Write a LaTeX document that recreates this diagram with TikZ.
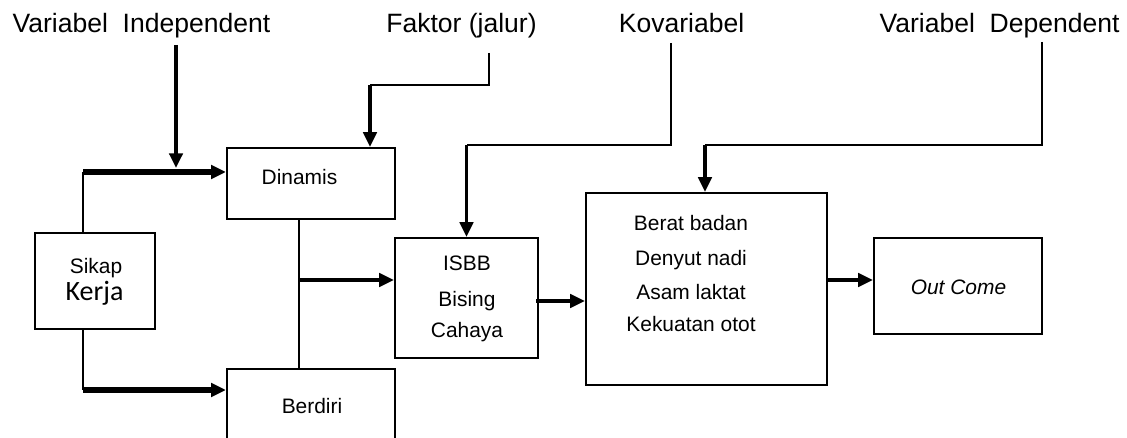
\documentclass[tikz,border=0pt]{standalone}
\usepackage{fontspec}
\setmainfont{Liberation Sans}
\newfontfamily\kerjafont{Carlito}
\usetikzlibrary{arrows.meta}

\begin{document}
\begin{tikzpicture}[x=0.75pt,y=0.75pt,yscale=-1,xscale=1,
  kotak/.style={draw, line width=1.7pt, inner sep=0pt},
  teks/.style={anchor=base, inner sep=0.75pt, font=\fontsize{15.7}{18}\selectfont},
  judul/.style={anchor=base, inner sep=0.75pt, font=\fontsize{19.9}{24}\selectfont},
  garis/.style={line width=1.7pt},
  panah/.style={line width=2.6pt, -{Triangle[length=11pt,width=10pt]}},
  tebal/.style={line width=4.5pt, -{Triangle[length=11pt,width=10pt]}}
]
\useasboundingbox (0,0) rectangle (1127,438);
\clip (0,0) rectangle (1127,438);

%Shape: Rectangle [Sikap Kerja]
\node [kotak, minimum width=90pt, minimum height=72pt] (sikap) at (95,281) {};
%Shape: Rectangle [Dinamis]
\node [kotak, minimum width=126pt, minimum height=53.25pt] (dinamis) at (311,183.5) {};
%Shape: Rectangle [Berdiri]
\node [kotak, minimum width=126pt, minimum height=57pt] (berdiri) at (311,407) {};
%Shape: Rectangle [ISBB]
\node [kotak, minimum width=107.25pt, minimum height=90pt] (isbb) at (466.5,298) {};
%Shape: Rectangle [hasil]
\node [kotak, minimum width=180.75pt, minimum height=144pt] (hasil) at (706.5,289) {};
%Shape: Rectangle [Out Come]
\node [kotak, minimum width=126pt, minimum height=72pt] (outcome) at (958,286) {};

% Text Node
\node [judul] (vi) at (141.5,33) {Variabel~~Independent};
% Text Node
\node [judul] (faktor) at (461.5,33) {Faktor (jalur)};
% Text Node
\node [judul] (kovar) at (681.5,33) {Kovariabel};
% Text Node
\node [judul] (vd) at (999.5,33) {Variabel~~Dependent};
% Text Node
\node [teks] (sikap-a) at (96,273) {Sikap};
% Text Node
\node [teks, font=\kerjafont\fontsize{21}{24}\selectfont] (sikap-b) at (94.5,300) {Kerja};
% Text Node
\node [teks] (dinamis-t) at (299.5,185) {Dinamis};
% Text Node
\node [teks] (berdiri-t) at (312,413) {Berdiri};
% Text Node
\node [teks] (isbb-a) at (467,271) {ISBB};
% Text Node
\node [teks] (isbb-b) at (467,306) {Bising};
% Text Node
\node [teks] (isbb-c) at (467,337) {Cahaya};
% Text Node
\node [teks] (hasil-a) at (691,231) {Berat badan};
% Text Node
\node [teks] (hasil-b) at (691,265) {Denyut nadi};
% Text Node
\node [teks] (hasil-c) at (691,299) {Asam laktat};
% Text Node
\node [teks] (hasil-d) at (691,331) {Kekuatan otot};
% Text Node
\node [teks, font=\itshape\fontsize{15.7}{18}\selectfont] (outcome-t) at (958.5,294) {Out Come};

% bends of the connectors
\coordinate (vi-top) at (176,45);
\coordinate (fk-top) at (489,53);
\coordinate (fk-bend) at (370,85);
\coordinate (kv-top) at (671,43);
\coordinate (kv-bend) at (466.5,145);
\coordinate (vd-top) at (1042,42);
\coordinate (vd-bend) at (705,145);
\coordinate (sk-up) at (83,172);
\coordinate (sk-down) at (83,390);
\coordinate (jn) at (299,280);
\coordinate (is-out) at (536,301);
\coordinate (hs-out) at (827,280);

%Connectors
\draw [garis] (sk-up |- sikap.north) -- (sk-up);
\draw [tebal] (sk-up) -- (sk-up -| dinamis.west);
\draw [garis] (sk-down |- sikap.south) -- (sk-down);
\draw [tebal] (sk-down) -- (sk-down -| berdiri.west);
\draw [panah, shorten >=3pt] (vi-top) -- (vi-top |- sk-up);
\draw [garis] (fk-top) |- (fk-bend);
\draw [panah] (fk-bend) -- (fk-bend |- dinamis.north);
\draw [garis] (kv-top) |- (kv-bend);
\draw [panah] (kv-bend) -- (isbb.north);
\draw [garis] (vd-top) |- (vd-bend);
\draw [panah] (vd-bend) -- (vd-bend |- hasil.north);
\draw [garis] (jn |- dinamis.south) -- (jn |- berdiri.north);
\draw [panah] (jn) -- (jn -| isbb.west);
\draw [panah] (is-out) -- (is-out -| hasil.west);
\draw [panah] (hs-out) -- (hs-out -| outcome.west);

\end{tikzpicture}
\end{document}
